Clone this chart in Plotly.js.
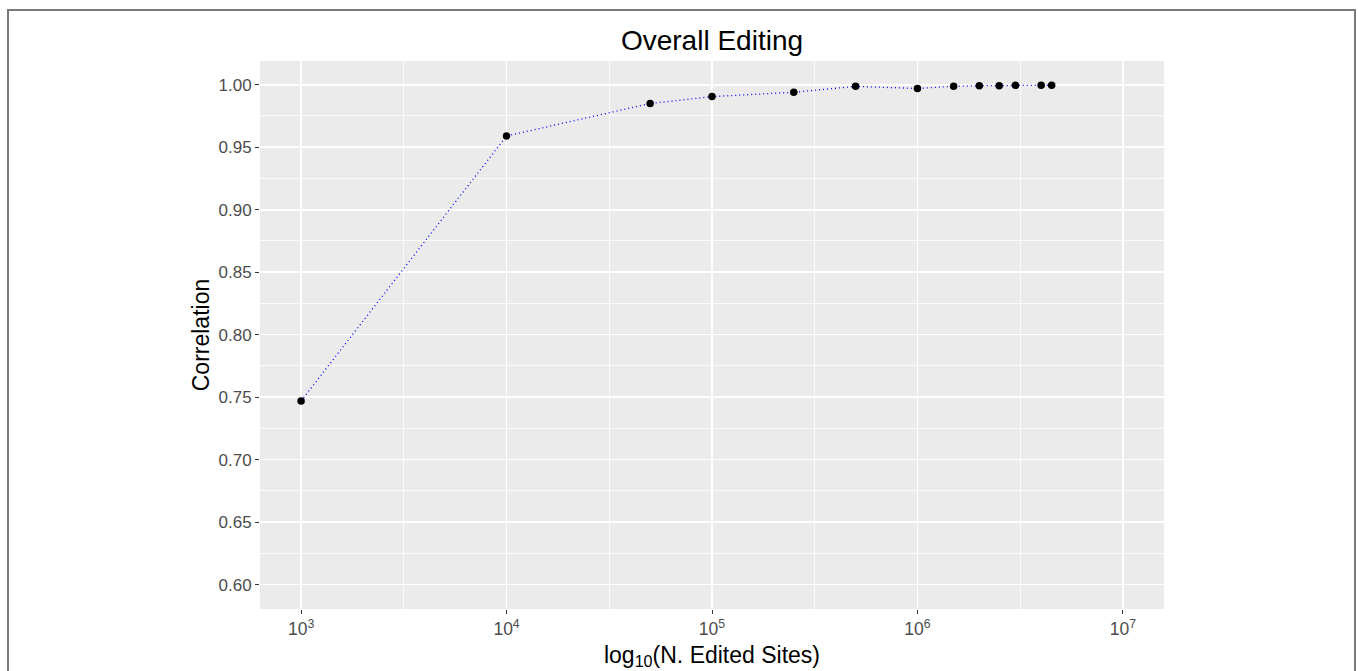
<!DOCTYPE html>
<html>
<head>
<meta charset="utf-8">
<script src="https://cdn.plot.ly/plotly-3.0.1.min.js"></script>
<style>
html,body{margin:0;padding:0;background:#fff;}
#chart{width:1358px;height:671px;}
#frame{position:absolute;left:7px;top:9px;width:1345px;height:720px;border:2px solid #7a7a7a;pointer-events:none;}
</style>
</head>
<body>
<div id="chart"></div>
<div id="frame"></div>
<script>
const editedSites = [1000, 10000, 50000, 100000, 250000, 500000, 1000000, 1500000, 2000000, 2500000, 3000000, 4000000, 4500000];
const correlation = [0.747, 0.959, 0.985, 0.9905, 0.994, 0.9987, 0.9970, 0.9988, 0.9992, 0.9992, 0.9995, 0.9996, 0.9996];
const xTickVals = [1e3, 1e4, 1e5, 1e6, 1e7];
const xTickText = ['10<sup>3</sup>', '10<sup>4</sup>', '10<sup>5</sup>', '10<sup>6</sup>', '10<sup>7</sup>'];
const yTickVals = [0.60, 0.65, 0.70, 0.75, 0.80, 0.85, 0.90, 0.95, 1.00];
const yTickText = ['0.60', '0.65', '0.70', '0.75', '0.80', '0.85', '0.90', '0.95', '1.00'];

const xMinor = [];
for (let i = 0; i < xTickVals.length - 1; i++) xMinor.push(Math.sqrt(xTickVals[i] * xTickVals[i + 1]));
const yMinor = [];
for (let i = 0; i < yTickVals.length - 1; i++) yMinor.push((yTickVals[i] + yTickVals[i + 1]) / 2);

const font = 'Liberation Sans, Arial, Helvetica, sans-serif';

const traces = [
  {
    x: editedSites, y: correlation, type: 'scatter', mode: 'lines',
    line: {color: '#0000ff', width: 1.3, dash: '1px,3px'},
    hoverinfo: 'skip', showlegend: false
  },
  {
    x: editedSites, y: correlation, type: 'scatter', mode: 'markers',
    marker: {color: '#000000', size: 7.5},
    showlegend: false
  }
];

const layout = {
  width: 1358, height: 671,
  margin: {l: 260, r: 194, t: 61, b: 62},
  paper_bgcolor: '#ffffff',
  plot_bgcolor: '#EBEBEB',
  showlegend: false,
  title: {
    text: 'Overall Editing',
    font: {family: font, size: 28, color: '#000000'},
    x: 0.5243, xanchor: 'center', y: 0.94, yanchor: 'middle', yref: 'container'
  },
  xaxis: {
    type: 'log',
    range: [2.8, 7.2],
    tickmode: 'array', tickvals: xTickVals, ticktext: xTickText,
    ticks: 'outside', ticklen: 4, tickwidth: 1, tickcolor: '#333333',
    tickfont: {family: font, size: 17.5, color: '#4D4D4D'},
    showgrid: true, gridcolor: '#ffffff', gridwidth: 1.6,
    minor: {tickmode: 'array', tickvals: xMinor, showgrid: true, gridcolor: '#ffffff', gridwidth: 0.8, ticks: ''},
    zeroline: false, showline: false,
    title: {text: 'log<sub>10</sub>(N. Edited Sites)', font: {family: font, size: 23, color: '#000000'}, standoff: 8}
  },
  yaxis: {
    range: [0.5805, 1.019],
    tickmode: 'array', tickvals: yTickVals, ticktext: yTickText,
    ticks: 'outside', ticklen: 4, tickwidth: 1, tickcolor: '#333333',
    tickfont: {family: font, size: 17, color: '#4D4D4D'},
    showgrid: true, gridcolor: '#ffffff', gridwidth: 1.6,
    minor: {tickmode: 'array', tickvals: yMinor, showgrid: true, gridcolor: '#ffffff', gridwidth: 0.8, ticks: ''},
    zeroline: false, showline: false,
    title: {text: 'Correlation', font: {family: font, size: 23, color: '#000000'}, standoff: 2}
  }
};

Plotly.newPlot('chart', traces, layout, {displayModeBar: false, staticPlot: true});
</script>
</body>
</html>
